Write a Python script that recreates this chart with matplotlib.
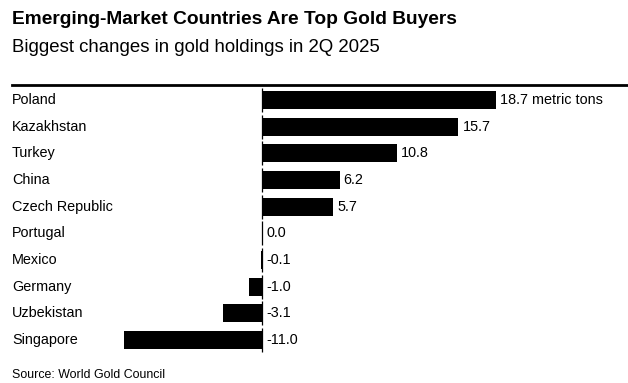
import matplotlib.pyplot as plt
import matplotlib.transforms as mtransforms

countries = ['Poland', 'Kazakhstan', 'Turkey', 'China', 'Czech Republic',
             'Portugal', 'Mexico', 'Germany', 'Uzbekistan', 'Singapore']
changes = [18.7, 15.7, 10.8, 6.2, 5.7, 0.0, -0.1, -1.0, -3.1, -11.0]
value_labels = ['18.7 metric tons', '15.7', '10.8', '6.2', '5.7',
                '0.0', '-0.1', '-1.0', '-3.1', '-11.0']

plt.rcParams['font.family'] = ['Liberation Sans', 'DejaVu Sans']

W, H = 628, 383
fig = plt.figure(figsize=(W / 100, H / 100), dpi=100)

# axes placed in pixel coordinates
left, right, top, bottom = 12, 616, 86.7, 353.3
ax = fig.add_axes([left / W, 1 - bottom / H, (right - left) / W, (bottom - top) / H])
scale = 12.51  # px per metric ton
zero_px = 262
ax.set_xlim(-(zero_px - left) / scale, (right - zero_px) / scale)
ax.set_ylim(len(countries) - 0.5, -0.5)
ax.axis('off')

ypos = list(range(len(countries)))
ax.barh(ypos, changes, height=0.68, color='black')
ax.vlines([0] * len(ypos), [y - 0.45 for y in ypos], [y + 0.45 for y in ypos],
          color='black', lw=0.9)

tr = mtransforms.blended_transform_factory(ax.transAxes, ax.transData)
for y, name, v, lab in zip(ypos, countries, changes, value_labels):
    ax.text(0, y, name, transform=tr, ha='left', va='center', fontsize=10.4)
    x = max(v, 0)
    ax.annotate(lab, (x, y), xytext=(3, 0), textcoords='offset points',
                ha='left', va='center', fontsize=10.4)

fig.text(12 / W, 1 - 20 / H, 'Emerging-Market Countries Are Top Gold Buyers',
         fontsize=13.75, fontweight='bold', ha='left', va='center')
fig.text(12 / W, 1 - 48 / H, 'Biggest changes in gold holdings in 2Q 2025',
         fontsize=13.45, ha='left', va='center')
fig.add_artist(plt.Line2D([12 / W, 1], [1 - 85 / H, 1 - 85 / H], color='black', lw=2))
fig.text(12 / W, 1 - 375 / H, 'Source: World Gold Council',
         fontsize=8.9, ha='left', va='center')

fig.savefig('out.png', dpi=100)
